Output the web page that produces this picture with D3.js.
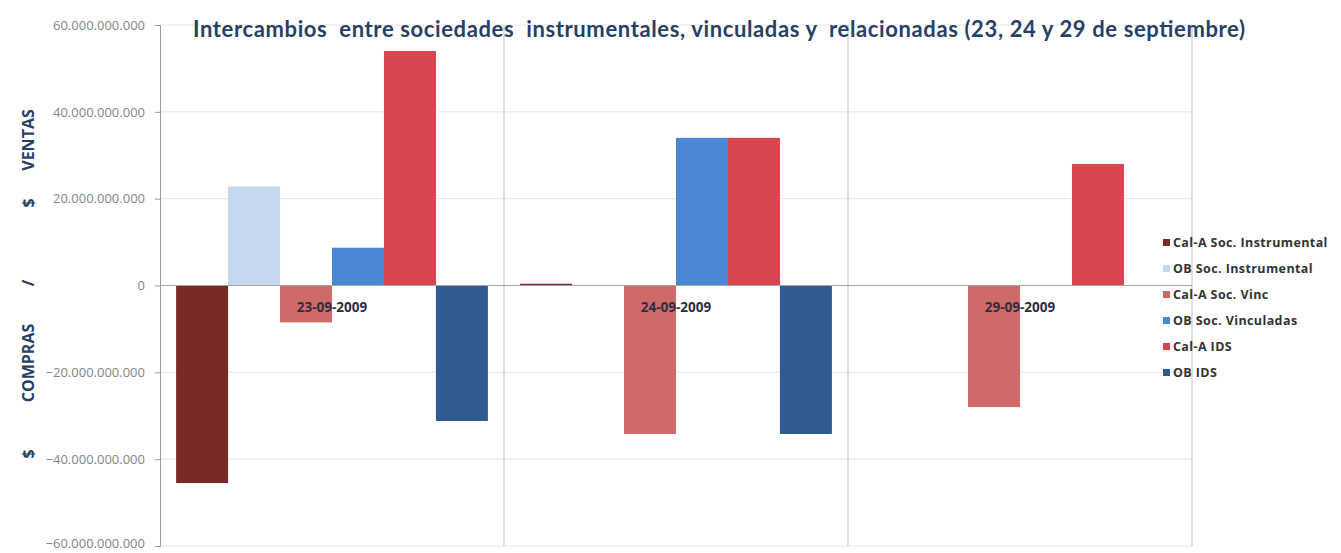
<!DOCTYPE html>
<html>
<head>
<meta charset="utf-8">
<script src="https://cdn.jsdelivr.net/npm/d3@7"></script>
<style>
  html, body { margin: 0; padding: 0; background: #fff; }
  svg { display: block; }
  text { white-space: pre; }
</style>
</head>
<body>
<svg id="chart" width="1341" height="553"></svg>
<script>
// values in pesos
const categories = ["23-09-2009", "24-09-2009", "29-09-2009"];
const seriesNames = ["Cal-A Soc. Instrumental", "OB Soc. Instrumental", "Cal-A Soc. Vinc", "OB Soc. Vinculadas", "Cal-A IDS", "OB IDS"];
const seriesColors = ["#7b2927", "#c6d8ee", "#d06a68", "#4a88d6", "#d8444f", "#2f5b91"];
const calAInstrumental = [-45.5e9, 0.4e9, 0];
const obInstrumental = [22.8e9, 0, 0];
const calAVinc = [-8.5e9, -34.2e9, -28e9];
const obVinculadas = [8.7e9, 34e9, 0];
const calAIds = [54e9, 34e9, 28e9];
const obIds = [-31.2e9, -34.2e9, 0];
const yTicks = [-60e9, -40e9, -20e9, 0, 20e9, 40e9, 60e9];

const seriesValues = [calAInstrumental, obInstrumental, calAVinc, obVinculadas, calAIds, obIds];

const svg = d3.select("#chart");
const plot = { left: 160, right: 1192, top: 25, bottom: 546 };

const x0 = d3.scaleBand().domain(categories).range([plot.left, plot.right]).padding(0);
const x1 = d3.scaleBand().domain(seriesNames).range([0, x0.bandwidth()]).paddingInner(0).paddingOuter(0.31);
const y = d3.scaleLinear().domain([-60e9, 60e9]).range([plot.bottom, plot.top]);

const fmt = v => d3.format(",")(v).replace(/,/g, ".");

// horizontal gridlines
svg.append("g").selectAll("line").data(yTicks.filter(t => t !== 0)).join("line")
  .attr("x1", plot.left).attr("x2", plot.right)
  .attr("y1", d => y(d)).attr("y2", d => y(d))
  .attr("stroke", "#e6e6e6").attr("stroke-width", 1);

// category gridlines
svg.append("g").selectAll("line").data(categories.slice(1).concat(["end"])).join("line")
  .attr("x1", d => d === "end" ? plot.right : x0(d))
  .attr("x2", d => d === "end" ? plot.right : x0(d))
  .attr("y1", plot.top).attr("y2", plot.bottom)
  .attr("stroke", "#cfcfcf").attr("stroke-width", 1.3);

// bars
const rows = [];
categories.forEach((c, i) => {
  seriesNames.forEach((s, j) => rows.push({ cat: c, name: s, value: seriesValues[j][i], color: seriesColors[j] }));
});

svg.append("g").selectAll("rect").data(rows.filter(d => d.value !== 0)).join("rect")
  .attr("x", d => x0(d.cat) + x1(d.name))
  .attr("width", x1.bandwidth())
  .attr("y", d => y(Math.max(0, d.value)))
  .attr("height", d => Math.abs(y(d.value) - y(0)))
  .attr("fill", d => d.color);

// zero line
svg.append("line")
  .attr("x1", plot.left).attr("x2", plot.right)
  .attr("y1", y(0)).attr("y2", y(0))
  .attr("stroke", "#a6a6a6").attr("stroke-width", 1);

// y axis
const yAxis = svg.append("g")
  .attr("transform", `translate(${plot.left},0)`)
  .call(d3.axisLeft(y).tickValues(yTicks).tickFormat(fmt).tickSize(5).tickPadding(10));
yAxis.select(".domain").attr("stroke", "#9a9a9a");
yAxis.selectAll(".tick line").attr("stroke", "#9a9a9a");
yAxis.selectAll(".tick text")
  .attr("fill", "#858585")
  .style("font-family", "'Open Sans', sans-serif")
  .style("font-size", "13px");
// bottom label sits on the window edge, lift it a touch so it stays whole
yAxis.selectAll(".tick text").filter(d => d === -60e9).attr("dy", "0.1em");

// category labels, sitting just below the zero line
svg.append("g").selectAll("text").data(categories).join("text")
  .attr("x", d => x0(d) + x0.bandwidth() / 2)
  .attr("y", y(0) + 26)
  .attr("text-anchor", "middle")
  .attr("fill", "#27304a")
  .style("font-family", "'Open Sans', sans-serif")
  .style("font-weight", "700")
  .style("font-size", "13.5px")
  .text(d => d);

// title
svg.append("text")
  .attr("x", 719).attr("y", 37)
  .attr("text-anchor", "middle")
  .attr("fill", "#283f66")
  .style("font-family", "Lato, sans-serif")
  .style("font-weight", "700")
  .style("font-size", "22px")
  .attr("textLength", 1052)
  .attr("lengthAdjust", "spacing")
  .text("Intercambios  entre sociedades  instrumentales, vinculadas y  relacionadas (23, 24 y 29 de septiembre)");

// y axis title, pieces placed along the side
const yTitle = [
  { t: "$", at: 454 },
  { t: "COMPRAS", at: 363 },
  { t: "/", at: 283 },
  { t: "$", at: 203 },
  { t: "VENTAS", at: 140 }
];
svg.append("g").selectAll("text").data(yTitle).join("text")
  .attr("transform", d => `translate(34,${d.at}) rotate(-90)`)
  .attr("text-anchor", "middle")
  .attr("fill", "#283f66")
  .style("font-family", "'Open Sans', sans-serif")
  .style("font-weight", "700")
  .style("font-size", "16px")
  .text(d => d.t);

// legend
const legend = svg.append("g").attr("transform", "translate(1163,243)");
const item = legend.selectAll("g").data(seriesNames).join("g")
  .attr("transform", (d, i) => `translate(0,${i * 26})`);
item.append("rect")
  .attr("x", 0).attr("y", -4).attr("width", 7).attr("height", 7)
  .attr("fill", (d, i) => seriesColors[i]);
item.append("text")
  .attr("x", 10).attr("y", 4)
  .attr("fill", "#333333")
  .style("font-family", "'Open Sans', sans-serif")
  .style("font-weight", "700")
  .style("font-size", "12.5px")
  .style("letter-spacing", "0.4px")
  .text(d => d);
</script>
</body>
</html>
